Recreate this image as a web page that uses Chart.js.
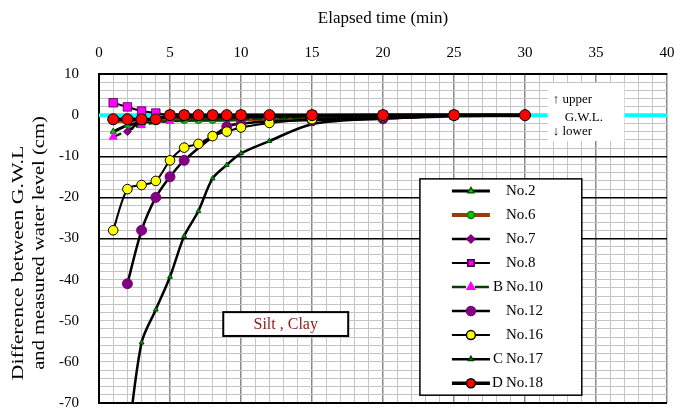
<!DOCTYPE html>
<html><head><meta charset="utf-8">
<script src="https://cdn.jsdelivr.net/npm/chart.js@4/dist/chart.umd.min.js"></script>
<style>html,body{margin:0;padding:0;background:#fff;overflow:hidden}</style>
</head><body>
<canvas id="c" width="674" height="414" style="display:block"></canvas>
<script>
// ---- tick labels ----
const xTickValues = [0,5,10,15,20,25,30,35,40];
const yTickValues = [10,0,-10,-20,-30,-40,-50,-60,-70];

// ---- series (elapsed time in min, difference in cm) ----
const t2  = [1,2,3,4,5,6,7,8,9,10,12,15,20,25,30];
const v2  = [-4,-2.5,-1.8,-1.5,-1.3,-1.3,-1.3,-1.2,-1.2,-1,-0.8,-0.5,-0.2,0,0];
const t6  = [1,2,3,4,5,6,7,8,9,10,12,15,20,25,30];
const v6  = [-1.5,-1.3,-1.2,-1.2,-1.2,-1.2,-1.2,-1.2,-1.0,-1.0,-0.8,-0.3,0,0,0];
const t7  = [2,3,4,5,6,7,8,9,10,12,15,20,25,30];
const v7  = [-4,-1.5,-0.8,-0.5,-0.5,-0.5,-0.5,-0.5,-0.5,-0.4,-0.3,-0.2,0,0];
const t8  = [1,2,3,4,5,6,8,10,15,20,25];
const v8  = [3,2,1,0.5,0,0,0,0,0,0,0];
const t10 = [1,3,5,10,15,20,25];
const v10 = [-5.3,-2.5,-1.5,-1,-0.5,-0.3,0];
const t12 = [2,3,4,5,6,9,10,12,15,20,25];
const v12 = [-41,-28,-20,-15,-11,-2.8,-2.1,-1.5,-1.2,-0.9,0];
const t16 = [1,2,3,4,5,6,7,8,9,10,12,15,20,25];
const v16 = [-28,-18,-17,-16,-11,-7.9,-7,-5.1,-4,-3,-1.9,-1,-0.5,0];
const t17 = [2,3,4,5,6,7,8,9,10,12,15,20,25,30];
const v17 = [-80,-55.3,-47.3,-39.3,-29.4,-23.3,-15.4,-12.1,-9.3,-6.3,-2.2,-0.8,-0.3,0];
const t18 = [1,2,3,4,5,6,7,8,9,10,12,15,20,25,30];
const v18 = [-1,-1,-1,-1,0,0,0,0,0,0,0,0,0,0,0];
const gwlT = [0,40];
const gwlV = [0,0];

const legendLabels = ['No.2','No.6','No.7','No.8','B No.10','No.12','No.16','C No.17','D No.18'];

const pts = (t,v)=>t.map((tt,i)=>({x:tt,y:v[i]}));
const F = 'Liberation Serif';

const ds = [
 {label:'D No.18', data:pts(t18,v18), borderColor:'#000', borderWidth:3.5, pointStyle:'circle', pointRadius:5.5, pointBackgroundColor:'#ff0000', pointBorderColor:'#000', pointBorderWidth:1, order:0},
 {label:'No.16', data:pts(t16,v16), borderColor:'#000', borderWidth:2, pointStyle:'circle', pointRadius:4.8, pointBackgroundColor:'#ffff00', pointBorderColor:'#000', pointBorderWidth:1, order:1},
 {label:'No.12', data:pts(t12,v12), borderColor:'#000', borderWidth:2.5, pointStyle:'circle', pointRadius:5, pointBackgroundColor:'#800080', pointBorderColor:'#800080', pointBorderWidth:1, order:2},
 {label:'No.8', data:pts(t8,v8), borderColor:'#000', borderWidth:2, pointStyle:'rect', pointRadius:6, pointBackgroundColor:'#ff00ff', pointBorderColor:'#400040', pointBorderWidth:0.8, order:3},
 {label:'No.7', data:pts(t7,v7), borderColor:'#000', borderWidth:2.5, pointStyle:'rectRot', pointRadius:4, pointBackgroundColor:'#800080', pointBorderColor:'#800080', pointBorderWidth:1, order:4},
 {label:'B No.10', data:pts(t10,v10), borderColor:'#004000', borderWidth:2.5, borderDash:[8,5], pointStyle:'triangle', pointRadius:4.5, pointBackgroundColor:'#ff00ff', pointBorderColor:'#ff00ff', pointBorderWidth:1, order:5},
 {label:'No.6', data:pts(t6,v6), borderColor:'#9c3a0c', borderWidth:4, pointStyle:'circle', pointRadius:3.5, pointBackgroundColor:'#00cc00', pointBorderColor:'#008000', pointBorderWidth:1, order:6},
 {label:'No.2', data:pts(t2,v2), borderColor:'#000', borderWidth:3, pointStyle:'triangle', pointRadius:3.5, pointBackgroundColor:'#00cc00', pointBorderColor:'#006000', pointBorderWidth:1, order:7},
 {label:'C No.17', data:pts(t17,v17), borderColor:'#000', borderWidth:2.5, pointStyle:'triangle', pointRadius:2.8, pointBackgroundColor:'#00a000', pointBorderColor:'#004000', pointBorderWidth:1, order:8},
 {label:'G.W.L.', data:pts(gwlT,gwlV), borderColor:'#00ffff', borderWidth:4, pointRadius:0, order:20}
];
ds.forEach(d=>{d.tension=0.3; d.clip=0; d.fill=false;});

const H = Chart.helpers;

const overlays = {
 id:'overlays',
 afterDatasetsDraw(chart){
  const {ctx, scales:{x,y}} = chart;
  ctx.save();
  // G.W.L. note box
  let L=x.getPixelForValue(31.6), R=x.getPixelForValue(37.0), T=y.getPixelForValue(7.8), B=y.getPixelForValue(-6.3);
  ctx.fillStyle='#fff'; ctx.fillRect(L,T,R-L,B-T);
  ctx.fillStyle='#000'; ctx.font='13px "'+F+'"'; ctx.textBaseline='middle'; ctx.textAlign='left';
  ctx.fillText('\u2191 upper', L+5, y.getPixelForValue(3.9));
  ctx.fillText('G.W.L.', L+17, y.getPixelForValue(-0.5));
  ctx.fillText('\u2193 lower', L+5, y.getPixelForValue(-4.1));

  // Silt, Clay box
  L=x.getPixelForValue(8.75); R=x.getPixelForValue(17.55); T=y.getPixelForValue(-47.9); B=y.getPixelForValue(-53.7);
  ctx.fillStyle='#fff'; ctx.fillRect(L,T,R-L,B-T);
  ctx.strokeStyle='#000'; ctx.lineWidth=2; ctx.strokeRect(L,T,R-L,B-T);
  ctx.fillStyle='#8b1a1a'; ctx.font='16px "'+F+'"'; ctx.textAlign='center';
  ctx.fillText('Silt , Clay', (L+R)/2, (T+B)/2+1);

  // Legend
  L=x.getPixelForValue(22.6); R=x.getPixelForValue(34.0); T=y.getPixelForValue(-15.5); B=y.getPixelForValue(-68.1);
  ctx.fillStyle='#fff'; ctx.fillRect(L,T,R-L,B-T);
  ctx.strokeStyle='#000'; ctx.lineWidth=1.5; ctx.strokeRect(L,T,R-L,B-T);
  const rowH=(B-T)/legendLabels.length;
  legendLabels.forEach((lab,i)=>{
   const d = ds.find(q=>q.label===lab);
   const cy = T+rowH*(i+0.5);
   const x0=L+32, x1=L+70, xm=L+51;
   ctx.save();
   ctx.strokeStyle=d.borderColor; ctx.lineWidth=d.borderWidth;
   ctx.setLineDash(d.borderDash?[14,9]:[]);
   ctx.beginPath(); ctx.moveTo(x0,cy); ctx.lineTo(x1,cy); ctx.stroke();
   ctx.restore();
   ctx.fillStyle=d.pointBackgroundColor; ctx.strokeStyle=d.pointBorderColor;
   H.drawPoint(ctx,{pointStyle:d.pointStyle,radius:Math.min(d.pointRadius,4.5),rotation:0,borderWidth:d.pointBorderWidth},xm,cy);
   ctx.fillStyle='#000'; ctx.font='15px "'+F+'"'; ctx.textBaseline='middle';
   const sp = lab.indexOf(' ');
   ctx.textAlign='left';
   if(sp>0){
     ctx.textAlign='right'; ctx.fillText(lab.slice(0,sp), L+83, cy);
     ctx.textAlign='left'; ctx.fillText(lab.slice(sp+1), L+86, cy);
   } else ctx.fillText(lab, L+86, cy);
  });

  // bottom border
  ctx.strokeStyle='#000'; ctx.lineWidth=2; ctx.setLineDash([]);
  ctx.beginPath(); ctx.moveTo(chart.chartArea.left-1, chart.chartArea.bottom); ctx.lineTo(chart.chartArea.right, chart.chartArea.bottom); ctx.stroke();
  ctx.restore();

  // y-axis title (two lines)
  ctx.save();
  ctx.fillStyle='#000'; ctx.font='17px "'+F+'"'; ctx.textAlign='center'; ctx.textBaseline='middle';
  ctx.translate(19,263); ctx.rotate(-Math.PI/2); ctx.scale(1.28,1);
  ctx.fillText('Difference between G.W.L',0,0);
  ctx.restore();
  ctx.save();
  ctx.fillStyle='#000'; ctx.font='17px "'+F+'"'; ctx.textAlign='center'; ctx.textBaseline='middle';
  ctx.translate(40,243); ctx.rotate(-Math.PI/2); ctx.scale(1.21,1);
  ctx.fillText('and measured water level (cm)',0,0);
  ctx.restore();
 }
};

const noPad = s=>{s.paddingLeft=0; s.paddingRight=0; s.paddingTop=0; s.paddingBottom=0;};

new Chart(document.getElementById('c'),{
 type:'line',
 data:{datasets:ds},
 options:{
  responsive:false, animation:false, devicePixelRatio:1,
  layout:{padding:{left:0,top:0,right:7,bottom:11}},
  plugins:{legend:{display:false}, tooltip:{enabled:false}},
  elements:{line:{borderCapStyle:'round',borderJoinStyle:'round'}},
  scales:{
   x:{type:'linear', position:'top', min:0, max:40,
      ticks:{stepSize:1, autoSkip:false, maxRotation:0, color:'#000', padding:12,
             font:{family:F,size:15}, callback:v=>xTickValues.includes(v)?String(v):''},
      grid:{drawTicks:false,
            color:c=>(c.tick&&c.tick.value%5===0)?'#8a8a8a':'#c4c4c4',
            lineWidth:c=>(c.tick&&c.tick.value%5===0)?1.5:1},
      border:{display:true,color:'#000',width:2},
      title:{display:true,text:'Elapsed time (min)',color:'#000',font:{family:F,size:17},padding:{top:8,bottom:0}},
      afterFit:s=>{s.height=74; noPad(s);}
   },
   y:{type:'linear', min:-70, max:10,
      ticks:{stepSize:2, autoSkip:false, color:'#000', padding:20,
             font:{family:F,size:15}, callback:v=>yTickValues.includes(v)?String(v):''},
      grid:{drawTicks:false,
            color:c=>{const v=c.tick&&c.tick.value; return (v===-10||v===-20||v===-30||v===10||v===-70)?'#000':'#c4c4c4';},
            lineWidth:c=>{const v=c.tick&&c.tick.value; return (v===-10||v===-20||v===-30)?1.5:((v===10||v===-70)?2:1);}},
      border:{display:true,color:'#000',width:2},
      afterFit:s=>{s.width=99; noPad(s);}
   }
  }
 },
 plugins:[overlays]
});
</script>
</body></html>
